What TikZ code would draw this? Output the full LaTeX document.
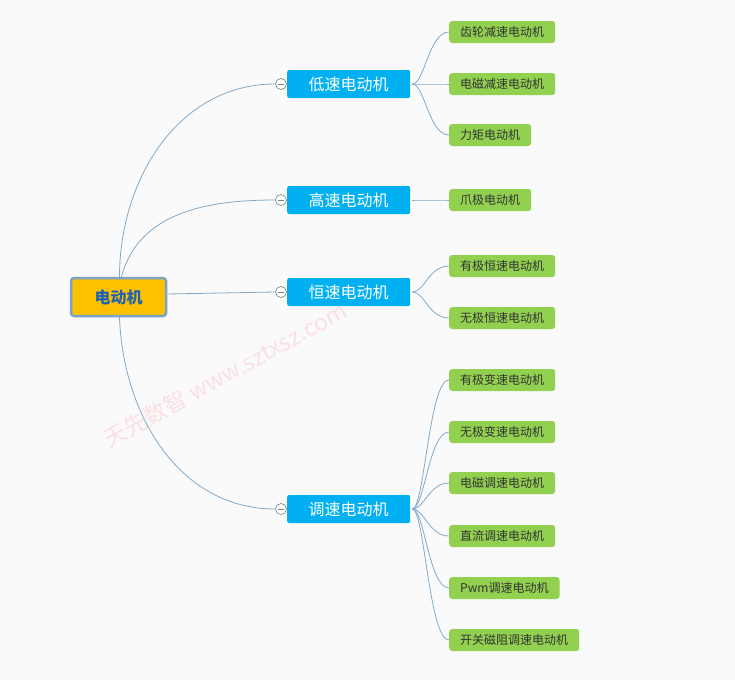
\documentclass[tikz,border=0pt]{standalone}
\usepackage{fontspec}
\setmainfont{Noto Sans CJK SC}
\usetikzlibrary{positioning}

\definecolor{rootfill}{HTML}{FFC000}
\definecolor{rootline}{HTML}{7BA3C8}
\definecolor{roottext}{HTML}{1F64B0}
\definecolor{branchfill}{HTML}{00B0F0}
\definecolor{leaffill}{HTML}{92D050}
\definecolor{linkcol}{HTML}{84A9C6}
\definecolor{markpink}{HTML}{FAE0E4}

\begin{document}
\begin{tikzpicture}[x=1pt, y=-1pt,
    rootbox/.style={draw=rootline, line width=2.5pt, fill=rootfill, rounded corners=3pt,
        minimum width=95pt, minimum height=38pt, text=roottext,
        font=\fontsize{16}{16}\selectfont\bfseries},
    branchbox/.style={anchor=west, fill=branchfill, rounded corners=2pt,
        minimum width=123pt, minimum height=28pt, text=white,
        font=\fontsize{16}{16}\selectfont},
    leafbox/.style={anchor=west, fill=leaffill, rounded corners=3pt,
        minimum height=22pt, inner xsep=11pt, text=black!80,
        font=\fontsize{12}{12}\selectfont},
    fold/.style={draw=gray, fill=white, circle, inner sep=0, minimum size=11pt, line width=0.6pt},
    link/.style={draw=linkcol, line width=0.8pt}]

    % Background
    \fill[black!2] (0, 0) rectangle (735, 680);

    % Watermark
    \node[text=markpink, rotate=29, font=\fontsize{23}{23}\selectfont] (mark) at (225, 375)
    {天先数智 www.sztxsz.com};

    % Root
    \node[rootbox] (root) at (118.5, 297) {电动机};

    % Branches
    \node[branchbox] (low) at (287, 84) {低速电动机};
    \node[branchbox] (high) at (287, 200) {高速电动机};
    \node[branchbox] (const) at (287, 292) {恒速电动机};
    \node[branchbox] (adj) at (287, 509) {调速电动机};

    % Fold marks
    \foreach \b in {low, high, const, adj} {
        \node[fold] (f\b) at ([xshift=-6pt]\b.west) {};
        \draw[gray, line width=0.6pt] ([xshift=-3pt]f\b.center) -- ([xshift=3pt]f\b.center);
    }

    % Leaves
    \node[leafbox] (l1) at (449, 32) {齿轮减速电动机};
    \node[leafbox] (l2) at (449, 84) {电磁减速电动机};
    \node[leafbox] (l3) at (449, 135) {力矩电动机};
    \node[leafbox] (h1) at (449, 200) {爪极电动机};
    \node[leafbox] (c1) at (449, 266) {有极恒速电动机};
    \node[leafbox] (c2) at (449, 318) {无极恒速电动机};
    \node[leafbox] (a1) at (449, 380) {有极变速电动机};
    \node[leafbox] (a2) at (449, 432) {无极变速电动机};
    \node[leafbox] (a3) at (449, 483) {电磁调速电动机};
    \node[leafbox] (a4) at (449, 536) {直流调速电动机};
    \node[leafbox] (a5) at (449, 588) {Pwm调速电动机};
    \node[leafbox] (a6) at (449, 640) {开关磁阻调速电动机};

    % Lines from root
    \draw[link] ([xshift=1pt]root.north) to[out=90, in=180] (flow.west);
    \draw[link] ([xshift=3pt]root.north) to[out=75, in=180] (fhigh.west);
    \draw[link] ([yshift=3pt]root.east) -- (fconst.west);
    \draw[link] ([xshift=1pt]root.south) to[out=-88, in=180] (fadj.west);

    % Lines to leaves
    \foreach \b/\l in {low/l1, low/l2, low/l3, high/h1, const/c1, const/c2,
        adj/a1, adj/a2, adj/a3, adj/a4, adj/a5, adj/a6}
        \draw[link] ([xshift=2pt]\b.east) to[out=0, in=180, out distance=12pt, in distance=20pt] (\l.west);

\end{tikzpicture}
\end{document}
